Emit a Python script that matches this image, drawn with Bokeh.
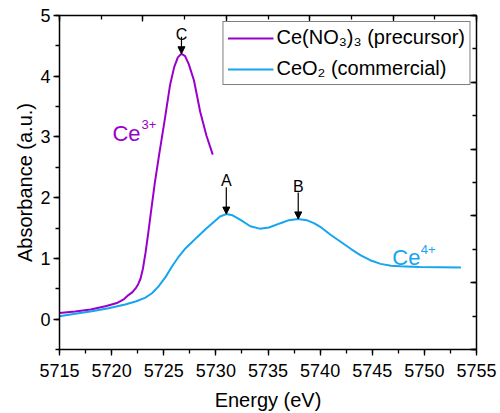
import numpy as np
from bokeh.plotting import figure
from bokeh.models import (LinearAxis, Range1d, SingleIntervalTicker, Legend, LegendItem,
                          Label, Arrow, NormalHead, CustomJSTickFormatter)
from bokeh.embed import file_html
from bokeh.resources import INLINE

# ---------------- data ----------------
prec_energy = [5715.0, 5716.5, 5718.0, 5719.5, 5720.5, 5721.2, 5721.64, 5722.0, 5722.3,
               5722.55, 5722.77, 5723.0, 5723.25, 5723.5, 5723.8, 5724.14, 5724.55,
               5725.1, 5725.6, 5726.0, 5726.35, 5726.7, 5727.05, 5727.4, 5727.9, 5728.5,
               5729.1, 5729.7]
prec_abs = [0.100, 0.125, 0.160, 0.215, 0.265, 0.330, 0.400, 0.445, 0.505,
            0.575, 0.665, 0.830, 1.090, 1.400, 1.800, 2.240, 2.700,
            3.290, 3.850, 4.150, 4.310, 4.370, 4.330, 4.200, 3.930, 3.410,
            3.020, 2.710]

comm_energy = [5715.0, 5716.5, 5718.1, 5719.7, 5721.3, 5722.3, 5723.2, 5723.9, 5724.5,
               5725.2, 5725.8, 5726.4, 5727.0, 5727.6, 5728.2, 5729.0, 5729.8, 5730.4,
               5731.0, 5731.6, 5732.4, 5733.3, 5734.2, 5735.1, 5736.2, 5737.0, 5737.9,
               5738.7, 5739.4, 5740.1, 5741.0, 5742.0, 5743.0, 5743.9, 5744.8, 5745.8,
               5746.8, 5747.7, 5749.5, 5751.5, 5753.5]
comm_abs = [0.046, 0.090, 0.130, 0.180, 0.240, 0.290, 0.350, 0.430, 0.540,
            0.700, 0.870, 1.020, 1.150, 1.250, 1.350, 1.480, 1.600, 1.690,
            1.730, 1.710, 1.630, 1.530, 1.490, 1.510, 1.580, 1.630, 1.650,
            1.630, 1.580, 1.510, 1.390, 1.270, 1.150, 1.050, 0.970, 0.910,
            0.880, 0.870, 0.860, 0.855, 0.850]

series_names = ["Ce(NO\u2083)\u2083 (precursor)", "CeO\u2082 (commercial)"]
peak_labels = ["C", "A", "B"]
peak_energy = [5726.7, 5731.0, 5737.9]
peak_series = [0, 1, 1]

x_ticks_start, x_ticks_end, x_tick_step = 5715, 5755, 5
y_min, y_max = -0.5, 5

# ---------------- styles ----------------
PURPLE = "#9A00CC"
BLUE = "#16A5EE"
FONT = "Liberation Sans"

p = figure(width=500, height=413, output_backend="svg", toolbar_location=None,
           x_range=Range1d(x_ticks_start, x_ticks_end), y_range=Range1d(y_min, y_max),
           min_border_left=59, min_border_right=24, min_border_top=15, min_border_bottom=63,
           x_axis_label="Energy (eV)", y_axis_label="Absorbance (a.u.)")
p.background_fill_color = "white"
p.border_fill_color = "white"
p.outline_line_color = None
p.xgrid.visible = False
p.ygrid.visible = False

p.extra_x_ranges = {"top": Range1d(0, 10)}
p.extra_y_ranges = {"right": Range1d(0, 10)}

p.xaxis.ticker = SingleIntervalTicker(interval=x_tick_step, num_minor_ticks=2)
p.yaxis.ticker = SingleIntervalTicker(interval=1, num_minor_ticks=2)

for ax in (p.xaxis[0], p.yaxis[0]):
    ax.axis_line_color = "black"
    ax.axis_line_width = 1.5
    ax.major_tick_line_color = "black"
    ax.minor_tick_line_color = "black"
    ax.major_tick_line_width = 1.3
    ax.minor_tick_line_width = 1.3
    ax.major_tick_in = 0
    ax.major_tick_out = 6
    ax.minor_tick_in = 0
    ax.minor_tick_out = 4
    ax.major_label_text_font = FONT
    ax.major_label_text_font_size = "18px"
    ax.major_label_text_color = "black"
    ax.axis_label_text_font = FONT
    ax.axis_label_text_font_size = "20px"
    ax.axis_label_text_font_style = "normal"
    ax.axis_label_text_color = "black"

p.xaxis.major_label_standoff = 8
p.xaxis.axis_label_standoff = 9
p.yaxis.major_label_standoff = 3
p.yaxis.axis_label_standoff = 1

def frame_axis(**kw):
    ax = LinearAxis(ticker=SingleIntervalTicker(interval=2, num_minor_ticks=2),
                    formatter=CustomJSTickFormatter(code="return ' '"), **kw)
    ax.axis_line_color = "black"
    ax.axis_line_width = 1.5
    ax.major_tick_line_color = "black"
    ax.minor_tick_line_color = "black"
    ax.major_tick_line_width = 1.3
    ax.minor_tick_line_width = 1.3
    ax.major_tick_in = 6
    ax.major_tick_out = 0
    ax.minor_tick_in = 4
    ax.minor_tick_out = 0
    ax.major_label_text_font_size = "1px"
    ax.major_label_standoff = 0
    return ax

p.add_layout(frame_axis(x_range_name="top"), "above")
p.add_layout(frame_axis(y_range_name="right"), "right")

r1 = p.line(prec_energy, prec_abs, line_color=PURPLE, line_width=2)
r2 = p.line(comm_energy, comm_abs, line_color=BLUE, line_width=2)

legend = Legend(items=[LegendItem(label=series_names[0], renderers=[r1]),
                       LegendItem(label=series_names[1], renderers=[r2])],
                location="top_right", margin=6, padding=4, spacing=8,
                glyph_width=46, glyph_height=22, label_height=22, label_standoff=3,
                label_text_font=FONT, label_text_font_size="20px", label_text_color="black",
                border_line_color="black", border_line_width=1.2,
                background_fill_color="white", background_fill_alpha=1)
p.add_layout(legend)

# Ce3+ / Ce4+ labels
def ion_label(x, y, base, sup, color, sup_dx, sup_dy):
    p.add_layout(Label(x=x, y=y, text=base, text_font=FONT, text_font_size="22px",
                       text_color=color, text_align="left", text_baseline="alphabetic"))
    p.add_layout(Label(x=x, y=y, x_offset=sup_dx, y_offset=sup_dy, text=sup, text_font=FONT,
                       text_font_size="13px", text_color=color, text_align="left",
                       text_baseline="alphabetic"))

ion_label(5720.08, 3.06, "Ce", "3+", PURPLE, 29, 8.7)
ion_label(5746.93, 1.02, "Ce", "4+", BLUE, 28.5, 7.7)

# peak markers
curves = [(prec_energy, prec_abs), (comm_energy, comm_abs)]
label_gap = [0.32, 0.56, 0.54]
arrow_gap = [0.28, 0.44, 0.435]
for lab, e, s, lg, ag in zip(peak_labels, peak_energy, peak_series, label_gap, arrow_gap):
    ex, ey = curves[s]
    yv = float(np.interp(e, ex, ey))
    p.add_layout(Label(x=e, y=yv + lg, text=lab, text_font=FONT, text_font_size="16px",
                       text_color="black", text_align="center", text_baseline="alphabetic"))
    p.add_layout(Arrow(end=NormalHead(size=7, fill_color="black", line_color="black", line_width=1),
                       x_start=e, y_start=yv + ag, x_end=e, y_end=yv,
                       line_color="black", line_width=1.2))

open("out.html", "w").write(file_html(p, INLINE))
